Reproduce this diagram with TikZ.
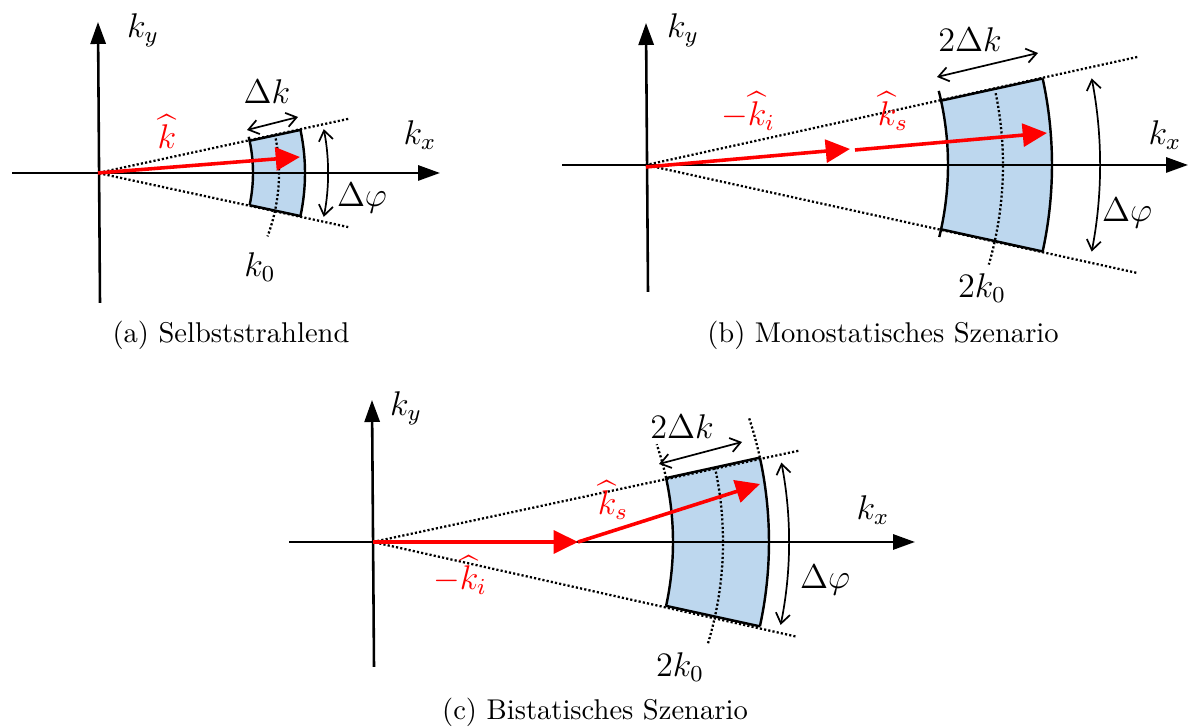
\documentclass[tikz,border=0pt]{standalone}
\usepackage{amsmath}
\usetikzlibrary{arrows.meta}
\definecolor{cellblue}{RGB}{189,215,238}

\begin{document}
\begin{tikzpicture}[x=0.35pt,y=0.35pt,
  axis/.style={line width=0.9pt,-{Triangle[length=7.7pt,width=5.3pt]}},
  ray/.style={line width=0.8pt,dash pattern=on 0.75pt off 0.75pt},
  kvec/.style={red,line width=1.25pt,-{Triangle[length=8.5pt,width=8pt]}},
  span/.style={line width=0.6pt,{Straight Barb[length=3.5pt,width=5pt]}-{Straight Barb[length=3.5pt,width=5pt]}},
  edge/.style={line width=0.85pt},
  cell/.style={fill=cellblue},
  lbl/.style={font=\large,inner sep=1pt},
  subcap/.style={font=\normalsize,inner sep=1pt}
]
\useasboundingbox (0,0) rectangle (1190,727);

% (a) Selbststrahlend
\begin{scope}[shift={(98,554)}]
  \coordinate (oa) at (0,0);
  \coordinate (ua) at (12.2:256);
  \coordinate (la) at (-12.2:256);
  \fill[cell] (-12:155) arc[start angle=-12,end angle=12,radius=155]
    -- (12:207) arc[start angle=12,end angle=-12,radius=207] -- cycle;
  \draw[ray] (ua) -- (oa) -- (la);
  \draw[ray] (11:181) arc[start angle=11,end angle=-20.5,radius=181];
  \draw[edge] (-12:155) arc[start angle=-12,end angle=13.5,radius=155];
  \draw[edge] (-12:207) arc[start angle=-12,end angle=12,radius=207];
  \draw[edge] (12:155) -- (12:207);
  \draw[edge] (-12:155) -- (-12:207);
  \draw[span] (-11:230) arc[start angle=-11,end angle=11,radius=230];
  \coordinate (dka0) at (149,43);
  \coordinate (dka1) at (200,56);
  \draw[span] (dka0) -- (dka1);
  \coordinate (xa0) at (-86,0);
  \coordinate (xa1) at (342,0);
  \coordinate (ya0) at (2,-130);
  \coordinate (ya1) at (0,151);
  \draw[axis] (xa0) -- (xa1);
  \draw[axis] (ya0) -- (ya1);
  \coordinate (ka) at (202,16);
  \draw[kvec] (oa) -- (ka);
  \node[lbl] (kya) at (45,143) {$k_y$};
  \node[lbl] (kxa) at (322,38) {$k_x$};
  \node[lbl,text=red] (kha) at (69,41) {$\widehat{k}$};
  \node[lbl] (dka) at (169,81) {$\Delta k$};
  \node[lbl] (dphia) at (264,-25) {$\Delta\varphi$};
  \node[lbl] (k0a) at (162,-94) {$k_0$};
\end{scope}
\node[subcap] (capa) at (231,392) {(a) Selbststrahlend};

% (b) Monostatisches Szenario
\begin{scope}[shift={(646,562)}]
  \coordinate (ob) at (0,0);
  \coordinate (ub) at (12.4:503);
  \coordinate (lb) at (-12.4:503);
  \fill[cell] (-12.3:302) arc[start angle=-12.3,end angle=12.3,radius=302]
    -- (12.3:406) arc[start angle=12.3,end angle=-12.3,radius=406] -- cycle;
  \draw[ray] (ub) -- (ob) -- (lb);
  \draw[ray] (11.6:357) arc[start angle=11.6,end angle=-16.2,radius=357];
  \draw[edge] (-13.8:302) arc[start angle=-13.8,end angle=14.2,radius=302];
  \draw[edge] (-12.3:406) arc[start angle=-12.3,end angle=12.3,radius=406];
  \draw[edge] (12.3:302) -- (12.3:406);
  \draw[edge] (-12.3:302) -- (-12.3:406);
  \draw[span] (-11:454) arc[start angle=-11,end angle=11,radius=454];
  \coordinate (dkb0) at (291,88);
  \coordinate (dkb1) at (392,112);
  \draw[span] (dkb0) -- (dkb1);
  \coordinate (xb0) at (-84,0);
  \coordinate (xb1) at (542,0);
  \coordinate (yb0) at (2,-127);
  \coordinate (yb1) at (0,142);
  \draw[axis] (xb0) -- (xb1);
  \draw[axis] (yb0) -- (yb1);
  \coordinate (kib0) at (0,-2);
  \coordinate (kib1) at (204,16);
  \coordinate (ksb0) at (209,15);
  \coordinate (ksb1) at (401,32);
  \draw[kvec] (kib0) -- (kib1);
  \draw[kvec] (ksb0) -- (ksb1);
  \node[lbl] (kyb) at (37,135) {$k_y$};
  \node[lbl] (kxb) at (519,30) {$k_x$};
  \node[lbl,text=red] (kib) at (102,54) {$-\widehat{k}_i$};
  \node[lbl,text=red] (ksb) at (247,54) {$\widehat{k}_s$};
  \node[lbl] (dkb) at (324,125) {$2\Delta k$};
  \node[lbl] (dphib) at (481,-48) {$\Delta\varphi$};
  \node[lbl] (k0b) at (336,-123) {$2k_0$};
\end{scope}
\node[subcap] (capb) at (883,392) {(b) Monostatisches Szenario};

% (c) Bistatisches Szenario
\begin{scope}[shift={(373,185)}]
  \coordinate (oc) at (0,0);
  \coordinate (uc) at (12.1:435);
  \coordinate (lc) at (-12.6:435);
  \fill[cell] (-12.3:300) arc[start angle=-12.3,end angle=12.3,radius=300]
    -- (12.3:396) arc[start angle=12.3,end angle=-12.3,radius=396] -- cycle;
  \draw[ray] (uc) -- (oc) -- (lc);
  \draw[ray] (12.3:350) arc[start angle=12.3,end angle=-17,radius=350];
  \draw[ray] (12.3:300) arc[start angle=12.3,end angle=19,radius=300];
  \draw[ray] (12.3:396) arc[start angle=12.3,end angle=18.3,radius=396];
  \draw[edge] (-12.3:300) arc[start angle=-12.3,end angle=12.3,radius=300];
  \draw[edge] (-12.3:396) arc[start angle=-12.3,end angle=12.3,radius=396];
  \draw[edge] (12.3:300) -- (12.3:396);
  \draw[edge] (-12.3:300) -- (-12.3:396);
  \draw[span] (-11.5:416) arc[start angle=-11.5,end angle=11,radius=416];
  \coordinate (dkc0) at (286,78);
  \coordinate (dkc1) at (369,100);
  \draw[span] (dkc0) -- (dkc1);
  \coordinate (xc0) at (-84,0);
  \coordinate (xc1) at (542,0);
  \coordinate (yc0) at (1,-125);
  \coordinate (yc1) at (-1,142);
  \draw[axis] (xc0) -- (xc1);
  \draw[axis] (yc0) -- (yc1);
  \coordinate (kic) at (205,0);
  \coordinate (ksc) at (387,58);
  \draw[kvec] (oc) -- (kic);
  \draw[kvec] (kic) -- (ksc);
  \node[lbl] (kyc) at (33,134) {$k_y$};
  \node[lbl] (kxc) at (500,32) {$k_x$};
  \node[lbl,text=red] (kilc) at (87,-33) {$-\widehat{k}_i$};
  \node[lbl,text=red] (kslc) at (240,42) {$\widehat{k}_s$};
  \node[lbl] (dkc) at (309,115) {$2\Delta k$};
  \node[lbl] (dphic) at (452,-38) {$\Delta\varphi$};
  \node[lbl] (k0c) at (307,-125) {$2k_0$};
\end{scope}
\node[subcap] (capc) at (595,15) {(c) Bistatisches Szenario};
\end{tikzpicture}
\end{document}
